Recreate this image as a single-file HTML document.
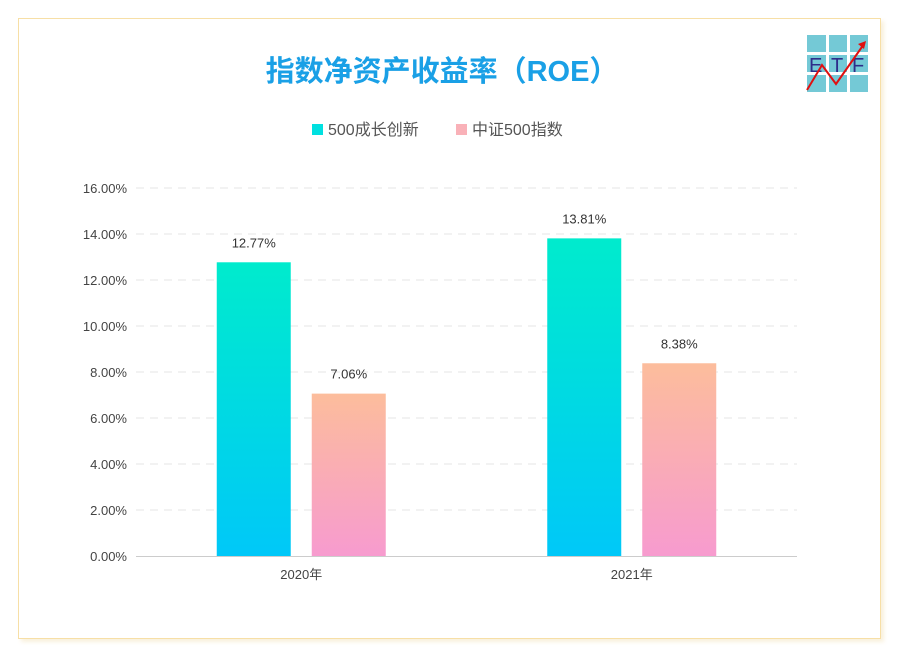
<!DOCTYPE html>
<html><head><meta charset="utf-8"><style>
body{margin:0;width:900px;height:660px;background:#fff;font-family:"Liberation Sans","Noto Sans CJK SC",sans-serif;overflow:hidden}
#card{position:absolute;left:18px;top:18px;width:863px;height:621px;border:1px solid #f7dfa6;box-sizing:border-box;background:#fff;box-shadow:3px 3px 4px rgba(240,220,170,0.4)}
</style></head><body>
<div id="card"></div>
<svg width="900" height="660" style="position:absolute;left:0;top:0">
<defs>
<linearGradient id="gA" x1="0" y1="0" x2="0" y2="1"><stop offset="0" stop-color="#00ebcd"/><stop offset="1" stop-color="#00c8f8"/></linearGradient>
<linearGradient id="gB" x1="0" y1="0" x2="0" y2="1"><stop offset="0" stop-color="#fcbd9c"/><stop offset="1" stop-color="#f79bcf"/></linearGradient>
</defs>
<text x="442" y="81" text-anchor="middle" font-size="29" font-weight="bold" fill="#1aa0e6">指数净资产收益率（ROE）</text>
<g>
<rect x="807" y="35" width="19" height="17" fill="#74c9d6"/><rect x="829" y="35" width="18" height="17" fill="#74c9d6"/><rect x="850" y="35" width="18" height="17" fill="#74c9d6"/>
<rect x="807" y="55" width="19" height="17" fill="#74c9d6"/><rect x="829" y="55" width="18" height="17" fill="#74c9d6"/><rect x="850" y="55" width="18" height="17" fill="#74c9d6"/>
<rect x="807" y="75" width="19" height="17" fill="#74c9d6"/><rect x="829" y="75" width="18" height="17" fill="#74c9d6"/><rect x="850" y="75" width="18" height="17" fill="#74c9d6"/>
<text x="809" y="72" font-size="20" fill="#2e2e8a">E</text><text x="831" y="72" font-size="20" fill="#2e2e8a">T</text><text x="852" y="72" font-size="20" fill="#2e2e8a">F</text>
<polyline points="807,90 822,65 836,84 864,44" fill="none" stroke="#e01010" stroke-width="2"/>
<polygon points="866,41 858,44 864,49" fill="#e01010"/>
</g>
<g>
<rect x="312" y="124" width="11" height="11" fill="#00e0e0"/>
<text x="328" y="135" font-size="16" fill="#555">500成长创新</text>
<rect x="456" y="124" width="11" height="11" fill="#f9b1b8"/>
<text x="472" y="135" font-size="16" fill="#555">中证500指数</text>
</g>
<g id="plot"></g>
</svg>
<script>
const categories=["2020年","2021年"];
const seriesGrowth=[12.77,13.81];
const seriesCsi500=[7.06,8.38];
const yTicks=[0,2,4,6,8,10,12,14,16];
const NS="http://www.w3.org/2000/svg";
const plot=document.getElementById('plot');
const y0=556,pxPer=23,xL=136,xR=797;
const y=v=>y0-v*pxPer;
const cw=(xR-xL)/categories.length;
const cx=i=>xL+cw*(i+0.5);
function mk(t,a){const e=document.createElementNS(NS,t);for(const k in a)e.setAttribute(k,a[k]);plot.appendChild(e);return e;}
yTicks.forEach(v=>{
 if(v>0){const g=mk('line',{x1:xL,x2:xR,y1:y(v),y2:y(v),stroke:'#e6e6e6','stroke-dasharray':'8,6'});
 
 }
 const t=mk('text',{x:127,y:y(v)+5,'text-anchor':'end','font-size':13,fill:'#444'});t.textContent=v.toFixed(2)+'%';
 
 
});
const ax=mk('line',{x1:xL,x2:xR,y1:y0+0.5,y2:y0+0.5,stroke:'#ccc'});


const bw=74,gap=21;
categories.forEach((c,i)=>{
 const t=mk('text',{x:cx(i),y:579,'text-anchor':'middle','font-size':13,fill:'#444'});t.textContent=c;
 
 
 [[seriesGrowth,'url(#gA)',-1],[seriesCsi500,'url(#gB)',0]].forEach(([s,f,o],k)=>{
  const x=cx(i)+(o<0?-(bw+gap/2):gap/2);
  const r=mk('rect',{x:x,y:y(s[i]),width:bw,height:s[i]*pxPer,fill:f});
  
  
  const l=mk('text',{x:x+bw/2,y:y(s[i])-15,'text-anchor':'middle','font-size':13,fill:'#333'});l.textContent=s[i].toFixed(2)+'%';
  
  
 });
});
</script>
</body></html>
